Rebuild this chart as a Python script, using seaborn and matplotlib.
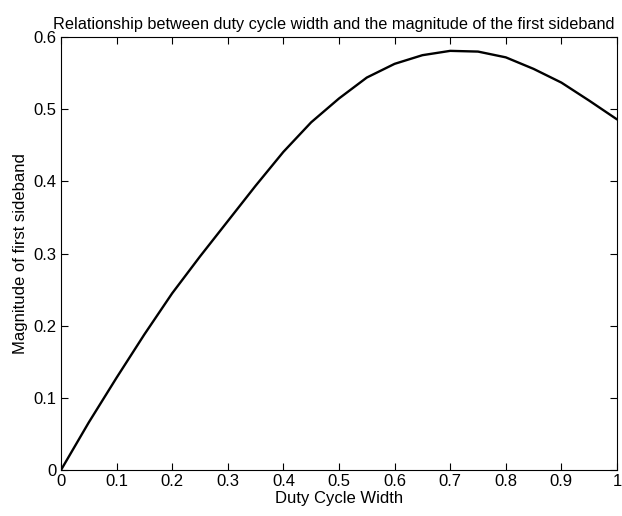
import matplotlib
matplotlib.use('Agg')

import matplotlib.pyplot as plt
import seaborn as sns
import pandas as pd

# values
duty_cycle = [0.0, 0.05, 0.1, 0.15, 0.2, 0.25, 0.3, 0.35, 0.4, 0.45, 0.5,
              0.55, 0.6, 0.65, 0.7, 0.75, 0.8, 0.85, 0.9, 0.95, 1.0]
magnitude = [0.0, 0.066, 0.128, 0.188, 0.245, 0.296, 0.345, 0.394, 0.441, 0.482, 0.515,
             0.544, 0.563, 0.575, 0.581, 0.580, 0.572, 0.556, 0.537, 0.512, 0.486]
x_ticks = [0, 0.1, 0.2, 0.3, 0.4, 0.5, 0.6, 0.7, 0.8, 0.9, 1]
x_tick_labels = ['0', '0.1', '0.2', '0.3', '0.4', '0.5', '0.6', '0.7', '0.8', '0.9', '1']
y_ticks = [0, 0.1, 0.2, 0.3, 0.4, 0.5, 0.6]
y_tick_labels = ['0', '0.1', '0.2', '0.3', '0.4', '0.5', '0.6']

df = pd.DataFrame({'width': duty_cycle, 'mag': magnitude})

sns.set_style("ticks")
plt.rcParams['font.family'] = ['Liberation Sans', 'DejaVu Sans']
plt.rcParams['xtick.direction'] = 'in'
plt.rcParams['ytick.direction'] = 'in'
plt.rcParams['text.color'] = 'black'
plt.rcParams['axes.labelcolor'] = 'black'
plt.rcParams['xtick.color'] = 'black'
plt.rcParams['ytick.color'] = 'black'

fig = plt.figure(figsize=(6.22, 5.16), dpi=100)
ax = fig.add_axes([0.098, 0.089, 0.894, 0.839])

sns.lineplot(data=df, x='width', y='mag', color='black', linewidth=1.7, ax=ax)

ax.set_xlim(0, 1)
ax.set_ylim(0, 0.6)
ax.set_xticks(x_ticks)
ax.set_xticklabels(x_tick_labels)
ax.set_yticks(y_ticks)
ax.set_yticklabels(y_tick_labels)
ax.tick_params(top=True, right=True, labelsize=12, length=5, width=0.8, pad=3)
for s in ax.spines.values():
    s.set_linewidth(0.8)
    s.set_color('black')

ax.set_xlabel('Duty Cycle Width', fontsize=12, labelpad=1)
ax.set_ylabel('Magnitude of first sideband', fontsize=12, labelpad=4)
ax.set_title('Relationship between duty cycle width and the magnitude of the first sideband',
             fontsize=11.7, pad=6, x=0.49)

plt.savefig('out.png', dpi=100)
